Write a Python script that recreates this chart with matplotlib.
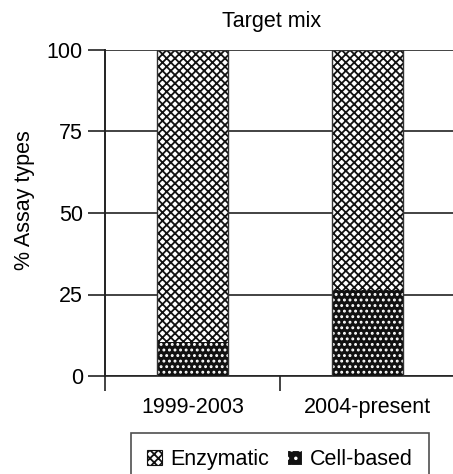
import matplotlib.pyplot as plt
import matplotlib.patches as mpatches
import numpy as np

plt.rcParams['font.family'] = ['Liberation Sans', 'DejaVu Sans']
plt.rcParams['hatch.linewidth'] = 1.3

# data
periods = ['1999-2003', '2004-present']
cell_based = [10.5, 26.5]
enzymatic = [89.5, 73.5]
yticks = [0, 25, 50, 75, 100]

fig = plt.figure(figsize=(4.53, 4.74), dpi=100)
ax = fig.add_axes([105 / 453, 1 - 376 / 474, 350 / 453, 326 / 474])

x = np.arange(len(periods))
w = 0.41

# cell-based: black with white dots
ax.bar(x, cell_based, w, color='#111111', linewidth=0, zorder=3)
ax.bar(x, cell_based, w, facecolor='none', edgecolor='white', hatch='...', linewidth=0, zorder=4)
# enzymatic: checkered on top
ax.bar(x, enzymatic, w, bottom=cell_based, color='white', edgecolor='#111111',
       hatch='xxxx', linewidth=0, zorder=3)
# outlines
tot = np.array(cell_based) + np.array(enzymatic)
ax.bar(x, tot, w, facecolor='none', edgecolor='#333333', linewidth=1.0, zorder=5)

ax.set_xlim(-0.5, 1.5)
ax.set_ylim(0, 100)
ax.set_yticks(yticks)
ax.yaxis.grid(True, color='#222222', linewidth=1.2, zorder=1)
ax.set_axisbelow(True)
ax.tick_params(axis='y', length=12, width=1.2, color='#222222', labelsize=15.5, pad=4)

ax.set_xticks([-0.5, 0.5, 1.5])
ax.set_xticklabels([])
ax.set_xticks(x, minor=True)
ax.set_xticklabels(periods, minor=True)
ax.tick_params(axis='x', which='major', length=11, width=1.2, color='#222222')
ax.tick_params(axis='x', which='minor', length=0, labelsize=15.5, pad=15)

for s in ['top', 'right']:
    ax.spines[s].set_visible(False)
ax.spines['left'].set_linewidth(1.4)
ax.spines['left'].set_color('#222222')
ax.spines['bottom'].set_linewidth(1.2)
ax.spines['bottom'].set_color('#222222')

ax.set_ylabel('% Assay types', fontsize=15.5)
ax.yaxis.set_label_coords(-0.20, 0.54)
fig.text(272 / 453, 1 - 21 / 474, 'Target mix', ha='center', va='center', fontsize=15.5)

h1 = mpatches.Patch(facecolor='white', edgecolor='#111111', hatch='xxxx', linewidth=0.8)
h2 = mpatches.Patch(facecolor='#111111', edgecolor='white', hatch='..', linewidth=0.8)
leg = fig.legend([h1, h2], ['Enzymatic', 'Cell-based'], loc='upper center',
                 bbox_to_anchor=(280 / 453, 1 - 433 / 474), ncol=2, fontsize=15.5,
                 frameon=True, fancybox=False, edgecolor='#222222',
                 handlelength=0.7, handleheight=0.7, handletextpad=0.4,
                 columnspacing=0.8, borderpad=0.75, borderaxespad=0)
leg.get_frame().set_linewidth(1.2)

fig.savefig('out.png', dpi=100)
